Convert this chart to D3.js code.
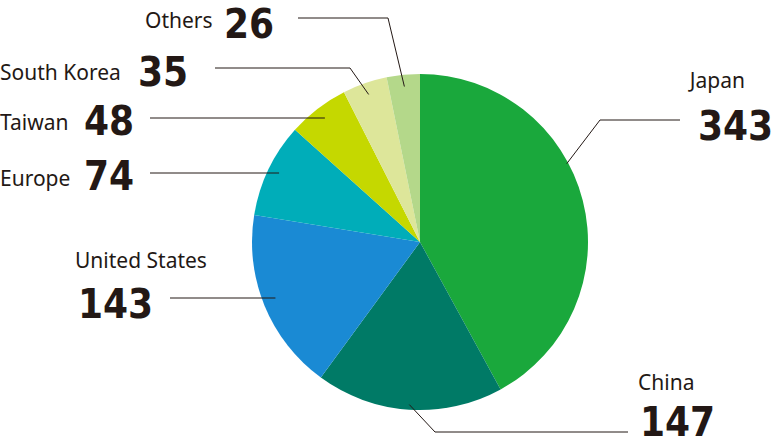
<!DOCTYPE html>
<html><head><meta charset="utf-8">
<script src="https://cdn.jsdelivr.net/npm/d3@7"></script>
<style>body{margin:0;background:#fff}svg{display:block}
.name{font-family:"Noto Sans",sans-serif;font-size:21px;fill:#231815}
.val{font-family:"DejaVu Sans Condensed","DejaVu Sans",sans-serif;font-weight:bold;font-stretch:condensed;font-size:40px;fill:#231815}
</style></head><body>
<svg width="774" height="444"></svg>
<script>
var regions = ["Japan","China","United States","Europe","Taiwan","South Korea","Others"];
var counts = [343,147,143,74,48,35,26];
var colors = ["#1aa83c","#007a66","#1a8ad4","#00adb9","#c5d800","#dde69a","#b4d88a"];

// label layout: angle offset / radius factor for leader start, elbow, line end, text positions
var layout = {
  "Japan":        {shift:-0.24, rf:0.99, elbow:[600,120], end:[680,120], name:[745,88,"end"], val:[773,140,"end"]},
  "China":        {shift:0, rf:0.97, elbow:[435,432], end:[628,432], name:[638,390,"start"], val:[640,436,"start"]},
  "United States":{shift:0, rf:0.93, elbow:null, end:[170,298], name:[75,268,"start"], val:[78,318,"start"]},
  "Europe":       {shift:0, rf:0.93, elbow:null, end:[150,173], name:[0,186,"start"], val:[84,190,"start"]},
  "Taiwan":       {shift:0, rf:0.93, elbow:null, end:[150,118], name:[0,130,"start"], val:[84,135,"start"]},
  "South Korea":  {shift:0, rf:0.93, elbow:[350,68], end:[215,68], name:[0,80,"start"], val:[138,86,"start"]},
  "Others":       {shift:0, rf:0.93, elbow:[388,18], end:[298,18], name:[145,28,"start"], val:[224,38,"start"]}
};

var svg = d3.select("svg");
var cx = 420, cy = 242, r = 168;
var g = svg.append("g").attr("transform", `translate(${cx},${cy})`);
var pie = d3.pie().sort(null).value(function(d){return d;});
var arcs = pie(counts);
var arc = d3.arc().innerRadius(0).outerRadius(r);

g.selectAll("path").data(arcs).enter().append("path")
  .attr("d", arc).attr("fill", function(d,i){return colors[i];});

arcs.forEach(function(a,i){
  var L = layout[regions[i]];
  var m = (a.startAngle + a.endAngle)/2 + L.shift;
  var rr = r*L.rf;
  var p0 = [cx + rr*Math.sin(m), cy - rr*Math.cos(m)];
  if (!L.elbow) p0 = [ cx + rr*Math.sin(m), L.end[1] ];
  var pts = [p0];
  if (L.elbow) pts.push(L.elbow);
  pts.push(L.end);
  svg.append("path").attr("d", d3.line()(pts))
    .attr("fill","none").attr("stroke","#231815").attr("stroke-width",1);
  svg.append("text").attr("class","name").attr("x",L.name[0]).attr("y",L.name[1])
    .attr("text-anchor",L.name[2]).text(regions[i]);
  svg.append("text").attr("class","val").attr("x",L.val[0]).attr("y",L.val[1])
    .attr("text-anchor",L.val[2]).text(counts[i]);
});
</script></body></html>
